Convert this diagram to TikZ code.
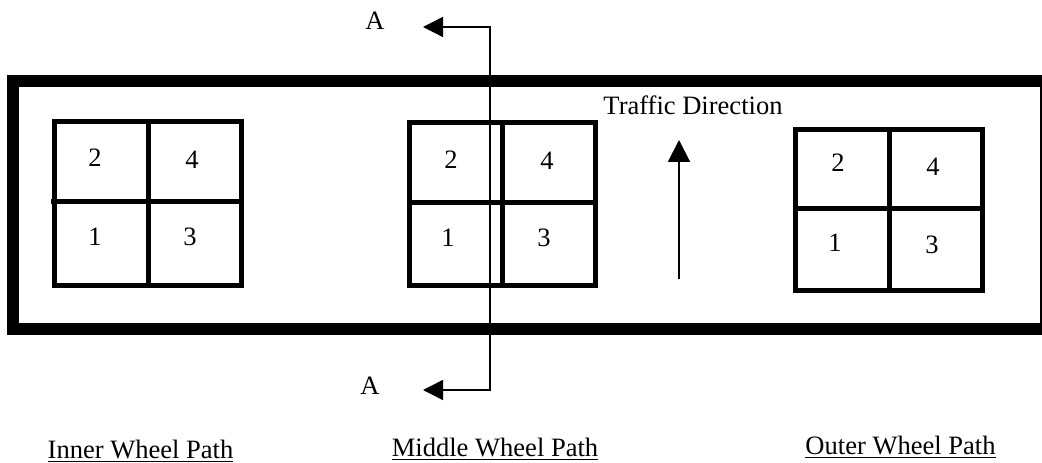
\documentclass[tikz,border=0pt]{standalone}
\usepackage{fontspec}
\setmainfont{Liberation Serif}
\usetikzlibrary{arrows.meta}
\begin{document}
\begin{tikzpicture}[x=0.75pt,y=-0.75pt,
  frame/.style={line width=9pt},
  gridline/.style={line width=3.75pt},
  lbl/.style={font=\fontsize{19.9}{24}\selectfont, inner sep=0pt},
  section/.style={line width=1.1pt, {Triangle[length=15pt,width=15pt]}-{Triangle[length=15pt,width=15pt]}},
  traffic/.style={line width=1.5pt, -{Triangle[length=16.5pt,width=16.5pt]}}]
\clip (0,0) rectangle (1042,463);
\fill[white] (0,0) rectangle (1042,463);
% outer frame
\draw[frame] (13,81) rectangle (1046,329);
% inner wheel path grid
\draw[gridline] (54.5,121.5) rectangle (241.5,285.5);
\draw[gridline] (148.5,121.5) -- (148.5,285.5);
\draw[gridline] (51,202) -- (244,202);
\node[lbl] (i2) at (95,157.5) {2};
\node[lbl] (i4) at (192,160) {4};
\node[lbl] (i1) at (95,237) {1};
\node[lbl] (i3) at (190,237) {3};
% middle wheel path grid
\draw[gridline] (409.5,123) rectangle (595.5,285.5);
\draw[gridline] (502.5,123) -- (502.5,285.5);
\draw[gridline] (407,203) -- (598,203);
\node[lbl] (m2) at (451,160) {2};
\node[lbl] (m4) at (547,161) {4};
\node[lbl] (m1) at (448,238) {1};
\node[lbl] (m3) at (544,238) {3};
% outer wheel path grid
\draw[gridline] (795.5,129.5) rectangle (982.5,290.5);
\draw[gridline] (889,129.5) -- (889,290.5);
\draw[gridline] (793,209) -- (985,209);
\node[lbl] (o2) at (838,163) {2};
\node[lbl] (o4) at (933,167) {4};
\node[lbl] (o1) at (835,243) {1};
\node[lbl] (o3) at (932,245) {3};
% section line A-A
\coordinate (ta) at (423,27);
\coordinate (tc) at (490,27);
\coordinate (bc) at (490,390);
\coordinate (ba) at (423,390);
\draw[section] (ta) -- (tc) -- (bc) -- (ba);
\node[lbl] (atop) at (375,21) {A};
\node[lbl] (abot) at (370,385.5) {A};
% traffic direction
\node[lbl, anchor=base] (tdir) at (693,115) {Traffic Direction};
\coordinate (tstart) at (679,279);
\coordinate (tend) at (679,140);
\draw[traffic] (tstart) -- (tend);
% wheel path labels
\node[lbl, anchor=base] (inner) at (140.5,458.5) {\underline{Inner Wheel Path}};
\node[lbl, anchor=base] (middle) at (495,456.5) {\underline{Middle Wheel Path}};
\node[lbl, anchor=base] (outer) at (900.5,454.5) {\underline{Outer Wheel Path}};
\end{tikzpicture}
\end{document}
